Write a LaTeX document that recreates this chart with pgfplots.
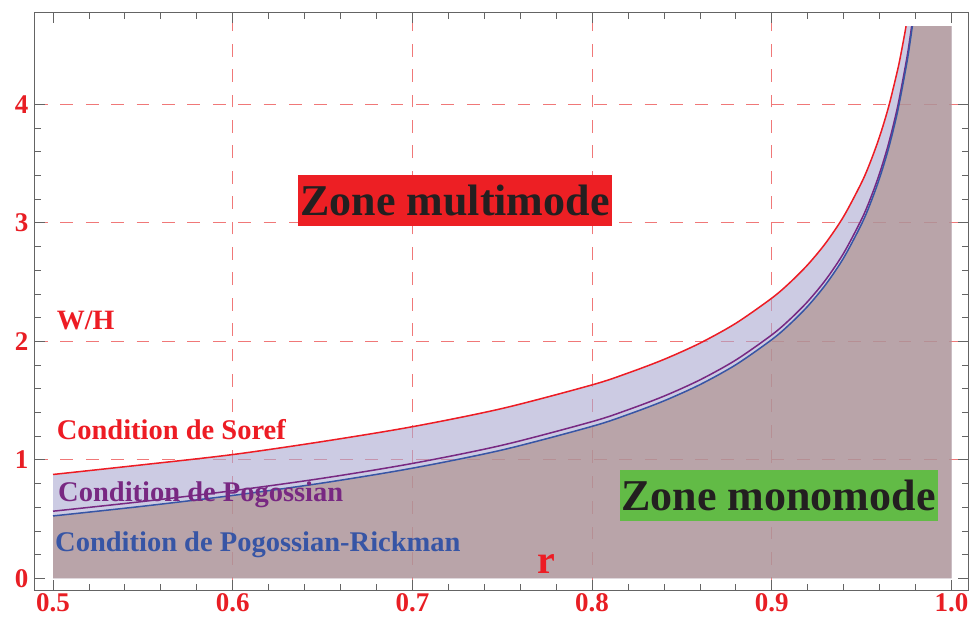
\documentclass[border=0pt]{standalone}
\usepackage{pgfplots}
\pgfplotsset{compat=1.18}
\usepackage{fontspec}
\setmainfont{Liberation Serif}

\definecolor{tickred}{RGB}{232,30,36}
\definecolor{linered}{RGB}{237,28,36}
\definecolor{pogpurple}{RGB}{120,40,130}
\definecolor{pogblue}{RGB}{55,85,165}
\definecolor{lavender}{RGB}{170,168,208}
\definecolor{mauve}{RGB}{172,140,132}
\definecolor{boxgreen}{RGB}{98,187,70}
\definecolor{boxred}{RGB}{237,31,36}
\definecolor{darktext}{RGB}{35,31,32}
\definecolor{gridred}{RGB}{240,120,120}
\definecolor{axisgray}{RGB}{100,100,100}

\begin{document}
\begin{tikzpicture}
\begin{axis}[
scale only axis,
width=933pt, height=577pt,
xmin=0.48998, xmax=1.00918,
ymin=-0.0979, ymax=4.771,
xtick={0.5,0.6,0.7,0.8,0.9,1.0},
ytick={0,1,2,3,4},
minor x tick num=4,
minor y tick num=4,
tick align=inside,
major tick length=10pt,
minor tick length=6pt,
tick style={color=axisgray, line width=0.8pt},
axis line style={color=axisgray, line width=1pt},
extra x ticks={0.6,0.7,0.8,0.9},
extra y ticks={1,2,3,4},
extra x tick labels={},
extra y tick labels={},
extra tick style={grid=major},
major grid style={color=gridred, dash pattern=on 12.7pt off 12.7pt, line width=0.9pt},
/pgf/number format/assume math mode=true,
ticklabel style={font=\fontsize{27}{32}\selectfont\bfseries, text=tickred},
xticklabel style={/pgf/number format/.cd, fixed, fixed zerofill, precision=1},
yticklabel style={xshift=-3pt},
]
% zone sous Soref
\addplot[fill=lavender, fill opacity=0.6, draw=none] coordinates {
(0.5,0) (0.50,0.877) (0.55,0.959) (0.60,1.045) (0.65,1.155) (0.70,1.280)
(0.75,1.434) (0.80,1.633) (0.82,1.733) (0.84,1.848) (0.86,1.985) (0.88,2.153)
(0.90,2.365) (0.91,2.495) (0.92,2.647) (0.93,2.830) (0.94,3.055) (0.95,3.342)
(0.955,3.520) (0.96,3.729) (0.965,3.980) (0.97,4.290) (0.972,4.437) (0.974,4.599)
(0.9747,4.66) (1,4.66) (1,0)
} --cycle;
% zone sous Pogossian-Rickman
\addplot[fill=mauve, fill opacity=0.6, draw=none] coordinates {
(0.5,0) (0.50,0.527) (0.55,0.609) (0.60,0.700) (0.65,0.805) (0.70,0.930)
(0.75,1.084) (0.80,1.283) (0.82,1.383) (0.84,1.498) (0.86,1.635) (0.88,1.803)
(0.90,2.015) (0.91,2.145) (0.92,2.297) (0.93,2.480) (0.94,2.705) (0.95,2.992)
(0.955,3.170) (0.96,3.379) (0.965,3.630) (0.97,3.940) (0.975,4.338) (0.977,4.532)
(0.978,4.638) (0.9782,4.66) (1,4.66) (1,0)
} --cycle;
% Soref
\addplot[color=linered, line width=1.5pt, smooth] coordinates {
(0.50,0.877) (0.55,0.959) (0.60,1.045) (0.65,1.155) (0.70,1.280)
(0.75,1.434) (0.80,1.633) (0.82,1.733) (0.84,1.848) (0.86,1.985) (0.88,2.153)
(0.90,2.365) (0.91,2.495) (0.92,2.647) (0.93,2.830) (0.94,3.055) (0.95,3.342)
(0.955,3.520) (0.96,3.729) (0.965,3.980) (0.97,4.290) (0.972,4.437) (0.974,4.599)
(0.9747,4.66)
};
% Pogossian
\addplot[color=pogpurple, line width=1.5pt, smooth] coordinates {
(0.50,0.567) (0.55,0.649) (0.60,0.740) (0.65,0.845) (0.70,0.970)
(0.75,1.124) (0.80,1.323) (0.82,1.423) (0.84,1.538) (0.86,1.675) (0.88,1.843)
(0.90,2.055) (0.91,2.185) (0.92,2.337) (0.93,2.520) (0.94,2.745) (0.95,3.032)
(0.955,3.210) (0.96,3.419) (0.965,3.670) (0.97,3.980) (0.975,4.378) (0.977,4.572)
(0.9778,4.66)
};
% Pogossian-Rickman
\addplot[color=pogblue, line width=1.5pt, smooth] coordinates {
(0.50,0.527) (0.55,0.609) (0.60,0.700) (0.65,0.805) (0.70,0.930)
(0.75,1.084) (0.80,1.283) (0.82,1.383) (0.84,1.498) (0.86,1.635) (0.88,1.803)
(0.90,2.015) (0.91,2.145) (0.92,2.297) (0.93,2.480) (0.94,2.705) (0.95,2.992)
(0.955,3.170) (0.96,3.379) (0.965,3.630) (0.97,3.940) (0.975,4.338) (0.977,4.532)
(0.978,4.638) (0.9782,4.66)
};

\node[anchor=base west, inner sep=0pt, text=linered, font=\fontsize{28}{34}\selectfont\bfseries] at (axis cs:0.502,2.097) {W/H};
\node[anchor=base west, inner sep=0pt, text=linered, font=\fontsize{28.5}{34}\selectfont\bfseries] at (axis cs:0.502,1.174) {Condition de Soref};
\node[anchor=base west, inner sep=0pt, text=pogpurple, font=\fontsize{28.5}{34}\selectfont\bfseries] at (axis cs:0.5028,0.645) {Condition de Pogossian};
\node[anchor=base west, inner sep=0pt, text=pogblue, font=\fontsize{28.5}{34}\selectfont\bfseries] at (axis cs:0.5011,0.225) {Condition de Pogossian-Rickman};
\node[anchor=base, inner sep=0pt, text=linered, font=\fontsize{40}{46}\selectfont\bfseries] at (axis cs:0.7746,0.043) {r};
\node[fill=boxred, text=darktext, inner xsep=2pt, inner ysep=0pt, minimum height=50.7pt, font=\fontsize{44}{50}\selectfont\bfseries] at (axis cs:0.7237,3.19) {Zone multimode};
\node[fill=boxgreen, text=darktext, inner xsep=2pt, inner ysep=0pt, minimum height=50.7pt, font=\fontsize{44}{50}\selectfont\bfseries] at (axis cs:0.9038,0.701) {Zone monomode};
\end{axis}
\pgfresetboundingbox
\path ([xshift=-35pt,yshift=-40pt]current axis.south west) rectangle ([xshift=2pt,yshift=13pt]current axis.north east);
\end{tikzpicture}
\end{document}
